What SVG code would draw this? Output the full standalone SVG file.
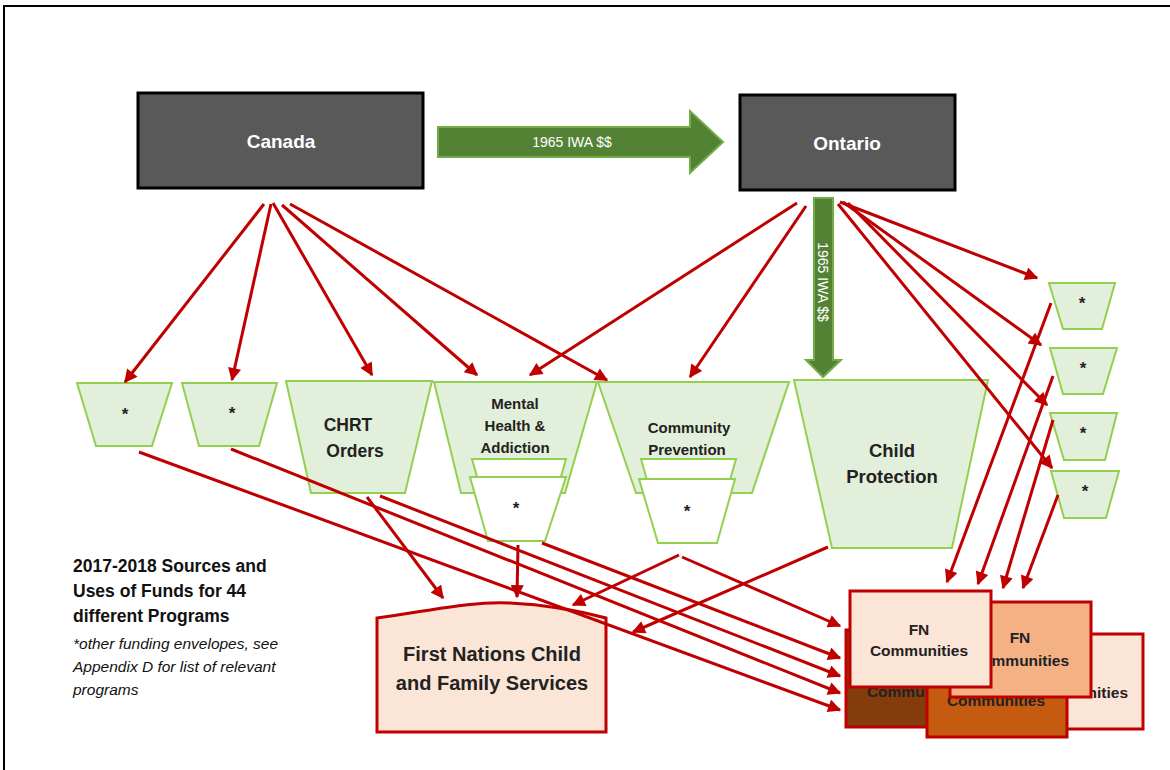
<svg xmlns="http://www.w3.org/2000/svg" width="1170" height="770" viewBox="0 0 1170 770">
<defs>
<marker id="ah" viewBox="0 0 10 10" refX="9" refY="5" markerWidth="4.8" markerHeight="4.4" orient="auto" markerUnits="strokeWidth">
<path d="M0,0 L10,5 L0,10 z" fill="#C00000"/>
</marker>
<style>
.dark{fill:#595959;stroke:#000;stroke-width:3}
.wt{fill:#fff;font-family:"Liberation Sans",Arial,sans-serif;font-weight:bold;text-anchor:middle}
.garrow{fill:#548235;stroke:#70AD47;stroke-width:2}
.trap{fill:#E2EFDA;stroke:#92D050;stroke-width:2}
.wtrap{fill:#fff;stroke:#92D050;stroke-width:2}
.lbl{fill:#222;font-family:"Liberation Sans",Arial,sans-serif;font-weight:bold;text-anchor:middle}
.ast{fill:#222;font-family:"Liberation Sans",Arial,sans-serif;font-size:17px;font-weight:bold;text-anchor:middle}
.fn{stroke:#C00000;stroke-width:3}
.conn line{stroke:#C00000;stroke-width:3;marker-end:url(#ah)}
.legend{fill:#111;font-family:"Liberation Sans",Arial,sans-serif}
</style>
</defs>
<rect x="4" y="6" width="1190" height="800" fill="#fff" stroke="#000" stroke-width="2"/>

<g id="canada">
<rect class="dark" x="138" y="93" width="285" height="95"/>
<text class="wt" x="281" y="148" font-size="19">Canada</text>
</g>
<g id="ontario">
<rect class="dark" x="740" y="95" width="215" height="95"/>
<text class="wt" x="847" y="150" font-size="19">Ontario</text>
</g>
<g id="iwa-horizontal">
<polygon class="garrow" points="438,127 690,127 690,111 723,142 690,173 690,157 438,157"/>
<text x="572" y="147" fill="#fff" font-family="Liberation Sans,Arial,sans-serif" font-size="14" text-anchor="middle">1965 IWA $$</text>
</g>
<g id="iwa-vertical">
<polygon class="garrow" points="814,198 833,198 833,360 841,360 823,377 806,360 814,360"/>
<text transform="translate(823,282) rotate(90)" x="0" y="5" fill="#fff" font-family="Liberation Sans,Arial,sans-serif" font-size="14" text-anchor="middle">1965 IWA $$</text>
</g>

<g id="env1">
<polygon class="trap" points="77,383 172,383 152,446 96,446"/>
<text class="ast" x="125" y="420">*</text>
</g>
<g id="env2">
<polygon class="trap" points="182,383 277,383 259,446 199,446"/>
<text class="ast" x="232" y="419">*</text>
</g>
<g id="chrt">
<polygon class="trap" points="286,381 432,381 405,493 311,493"/>
<text class="lbl" x="348" y="431" font-size="17.5">CHRT</text>
<text class="lbl" x="355" y="457" font-size="17.5">Orders</text>
</g>
<g id="mental-health">
<polygon class="trap" points="434,382 597,382 565,493 461,493"/>
<text class="lbl" x="515" y="409" font-size="15">Mental</text>
<text class="lbl" x="515" y="431" font-size="15">Health &amp;</text>
<text class="lbl" x="515" y="453" font-size="15">Addiction</text>
<polygon class="wtrap" points="472,459 566,459 560,480 478,480"/>
<polygon class="wtrap" points="470,477 566,477 545,541 488,541"/>
<text class="ast" x="516" y="514">*</text>
</g>
<g id="community-prevention">
<polygon class="trap" points="598,382 789,382 752,493 636,493"/>
<text class="lbl" x="689" y="433" font-size="15">Community</text>
<text class="lbl" x="687" y="455" font-size="15">Prevention</text>
<polygon class="wtrap" points="641,459 736,459 730,480 647,480"/>
<polygon class="wtrap" points="639,479 735,479 717,543 658,543"/>
<text class="ast" x="687" y="517">*</text>
</g>
<g id="child-protection">
<polygon class="trap" points="794,380 988,380 952,548 832,548"/>
<text class="lbl" x="892" y="457" font-size="18.5">Child</text>
<text class="lbl" x="892" y="483" font-size="18.5">Protection</text>
</g>
<g id="env-r1">
<polygon class="trap" points="1049,283 1115,283 1102,329 1063,329"/>
<text class="ast" x="1082" y="309">*</text>
</g>
<g id="env-r2">
<polygon class="trap" points="1050,348 1117,348 1103,394 1063,394"/>
<text class="ast" x="1083" y="374">*</text>
</g>
<g id="env-r3">
<polygon class="trap" points="1050,413 1117,413 1105,460 1064,460"/>
<text class="ast" x="1083" y="439">*</text>
</g>
<g id="env-r4">
<polygon class="trap" points="1051,471 1119,471 1106,518 1064,518"/>
<text class="ast" x="1085" y="497">*</text>
</g>

<g id="fncfs">
<path d="M377,618 C430,611 470,601 510,603 C550,605 580,611 606,618 L606,732 L377,732 Z" fill="#FBE5D6" stroke="#C00000" stroke-width="3"/>
<text class="lbl" x="492" y="661" font-size="20">First Nations Child</text>
<text class="lbl" x="492" y="690" font-size="20">and Family Services</text>
</g>

<g id="fn-communities">
<rect class="fn" x="1000" y="634" width="143" height="95" fill="#FBE5D6"/>
<text class="lbl" x="1079" y="698" font-size="15.5">Communities</text>
<rect class="fn" x="846" y="630" width="120" height="97" fill="#843C0C"/>
<text class="lbl" x="916" y="697" font-size="15.5">Communities</text>
<rect class="fn" x="927" y="612" width="140" height="125" fill="#C55A11"/>
<text class="lbl" x="996" y="706" font-size="15.5">Communities</text>
<rect class="fn" x="950" y="602" width="141" height="95" fill="#F4B183"/>
<text class="lbl" x="1020" y="643" font-size="15.5">FN</text>
<text class="lbl" x="1020" y="666" font-size="15.5">Communities</text>
<rect class="fn" x="850" y="591" width="141" height="96" fill="#FBE5D6"/>
<text class="lbl" x="919" y="635" font-size="15.5">FN</text>
<text class="lbl" x="919" y="656" font-size="15.5">Communities</text>
</g>

<g id="connectors" class="conn">
<line x1="264" y1="204" x2="125" y2="382"/>
<line x1="271" y1="204" x2="232" y2="380"/>
<line x1="273" y1="203" x2="372" y2="375"/>
<line x1="282" y1="205" x2="477" y2="375"/>
<line x1="290" y1="204" x2="607" y2="380"/>
<line x1="797" y1="203" x2="530" y2="375"/>
<line x1="806" y1="206" x2="690" y2="377"/>
<line x1="840" y1="202" x2="1037" y2="278"/>
<line x1="843" y1="202" x2="1041" y2="345"/>
<line x1="848" y1="203" x2="1047" y2="405"/>
<line x1="838" y1="204" x2="1052" y2="468"/>
<line x1="1051" y1="303" x2="947" y2="582"/>
<line x1="1053" y1="376" x2="978" y2="584"/>
<line x1="1053" y1="420" x2="1003" y2="588"/>
<line x1="1058" y1="495" x2="1023" y2="588"/>
<line x1="682" y1="557" x2="840" y2="626"/>
<line x1="542" y1="543" x2="840" y2="658"/>
<line x1="380" y1="496" x2="840" y2="676"/>
<line x1="231" y1="449" x2="840" y2="693"/>
<line x1="139" y1="452" x2="840" y2="710"/>
<line x1="367" y1="497" x2="443" y2="598"/>
<line x1="518" y1="545" x2="517" y2="597"/>
<line x1="679" y1="555" x2="573" y2="605"/>
<line x1="828" y1="547" x2="633" y2="632"/>
</g>

<g id="legend">
<text class="legend" x="73" y="572" font-size="17.5" font-weight="bold">2017-2018 Sources and</text>
<text class="legend" x="73" y="597" font-size="17.5" font-weight="bold">Uses of Funds for 44</text>
<text class="legend" x="73" y="622" font-size="17.5" font-weight="bold">different Programs</text>
<text class="legend" x="73" y="649" font-size="15.5" font-style="italic">*other funding envelopes, see</text>
<text class="legend" x="73" y="672" font-size="15.5" font-style="italic">Appendix D for list of relevant</text>
<text class="legend" x="73" y="695" font-size="15.5" font-style="italic">programs</text>
</g>
</svg>
